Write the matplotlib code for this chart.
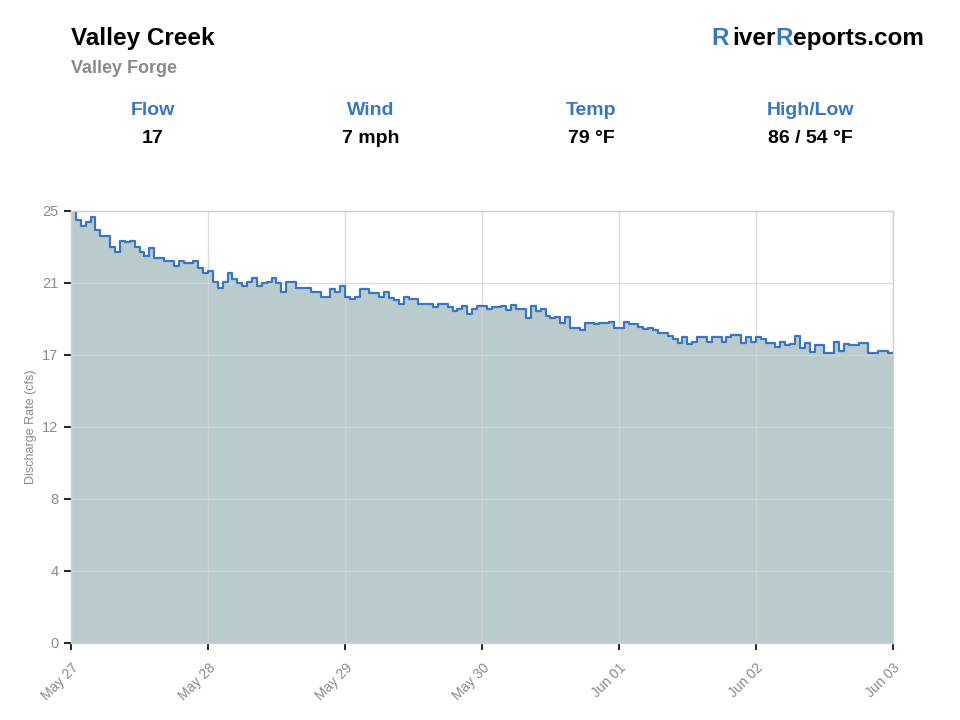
import numpy as np
import matplotlib
matplotlib.use("Agg")
import matplotlib.pyplot as plt

plt.rcParams['font.family'] = ['Liberation Sans', 'DejaVu Sans']

# hourly discharge (cfs)
flow = [
    25.0, 24.45, 24.13, 24.38, 24.67, 23.9, 23.57, 23.57, 22.93, 22.6, 23.28,
    23.22, 23.28, 22.93, 22.6, 22.4, 22.88, 22.3, 22.3, 22.08, 22.08, 21.8,
    22.08, 21.97, 21.97, 22.08, 21.68, 21.4, 21.5, 20.91, 20.53, 20.91, 21.39,
    21.05, 20.82, 20.66, 20.91, 21.10, 20.66, 20.82, 20.91, 21.10, 20.82, 20.29,
    20.91, 20.91, 20.52, 20.52, 20.52, 20.33, 20.33, 20.04, 20.04,
    20.47, 20.33, 20.66, 20.04, 19.91, 20.04, 20.47, 20.47, 20.24, 20.24,
    20.04, 20.29, 19.97,
    19.85, 19.62, 20.0, 19.91, 19.91, 19.62, 19.62, 19.62, 19.43, 19.62, 19.62,
    19.47, 19.21, 19.31, 19.50, 19.04, 19.31, 19.50, 19.50, 19.31, 19.43, 19.43,
    19.50, 19.27, 19.56, 19.31, 19.31, 18.83, 19.50, 19.23, 19.31, 18.92, 18.79,
    18.87,
    18.54, 18.85, 18.21, 18.21, 18.11, 18.50, 18.50, 18.44, 18.50, 18.50, 18.60,
    18.21, 18.21, 18.60, 18.46, 18.46, 18.31, 18.15, 18.21, 18.11, 17.96, 17.96,
    17.77, 17.58, 17.38, 17.73, 17.30, 17.40, 17.73, 17.73, 17.40, 17.69, 17.69,
    17.44, 17.73, 17.82, 17.82, 17.38, 17.69, 17.40, 17.69, 17.59, 17.34, 17.34,
    17.11, 17.44, 17.25, 17.30, 17.78, 17.05, 17.34, 16.86, 17.25, 17.25, 16.76,
    16.76, 17.44, 16.92, 17.30, 17.25, 17.25, 17.38, 17.38, 16.76, 16.76, 16.92,
    16.92, 16.76,
]
tick_labels = ["May 27", "May 28", "May 29", "May 30", "Jun 01", "Jun 02", "Jun 03"]
ytick_labels = ["0", "4", "8", "12", "17", "21", "25"]

station = "Valley Creek"
location = "Valley Forge"
stat_names = ["Flow", "Wind", "Temp", "High/Low"]
stat_values = ["17", "7 mph", "79 °F", "86 / 54 °F"]

blue = "#3b76c0"
fill_c = "#bacbcd"
gray = "#8a8a8a"

fig = plt.figure(figsize=(9.6, 7.2), dpi=100)
ax = fig.add_axes([0.074, 0.107, 0.856, 0.600])

y = np.append(flow, flow[-1])
hours = np.arange(len(y))
ax.fill_between(hours, y, step='post', color=fill_c, linewidth=0, zorder=1)
ax.step(hours, y, where='post', color=blue, linewidth=1.6, zorder=2)

ax.set_xlim(0, 168)
ax.set_ylim(0, 25)
ax.set_xticks(np.linspace(0, 168, len(tick_labels)))
ax.set_xticklabels(tick_labels, rotation=45, ha='right', va='top',
                   rotation_mode='anchor', color=gray, fontsize=10)
ax.set_yticks(np.linspace(0, 25, len(ytick_labels)))
ax.set_yticklabels(ytick_labels, color=gray, fontsize=10.5)
ax.tick_params(axis='both', length=5, width=1.2, color='black', pad=4)
ax.tick_params(axis='x', pad=8)

ax.set_axisbelow('line')
ax.grid(True, color=(0.82, 0.83, 0.83), alpha=0.75, linewidth=1)
for s in ax.spines.values():
    s.set_color('#d0d0d0')
    s.set_linewidth(1)

ax.set_ylabel("Discharge Rate (cfs)", color=gray, fontsize=9, labelpad=4)

# header
fig.text(0.074, 0.947, station, fontsize=17.5, fontweight='bold', va='center', ha='left')
fig.text(0.074, 0.905, location, fontsize=13, fontweight='bold', color=gray,
         va='center', ha='left')

stat_x = [0.159, 0.386, 0.616, 0.844]
for sx, name, val in zip(stat_x, stat_names, stat_values):
    fig.text(sx, 0.847, name, fontsize=14, fontweight='bold', color=blue,
             ha='center', va='center')
    fig.text(sx, 0.808, val, fontsize=14, fontweight='bold', color='black',
             ha='center', va='center')

# site logo: draw pieces right to left
pieces = [("eports.com", "black"), ("R", blue), ("iver", "black"), ("R", blue)]
renderer = fig.canvas.get_renderer()
x_right = 0.9625
for txt, col in pieces:
    t = fig.text(x_right, 0.947, txt, fontsize=17.5, fontweight='bold', color=col,
                 ha='right', va='center')
    bb = t.get_window_extent(renderer)
    x_right -= bb.width / fig.bbox.width
    if txt == "iver":
        x_right -= 0.004

fig.savefig("out.png", dpi=100)
